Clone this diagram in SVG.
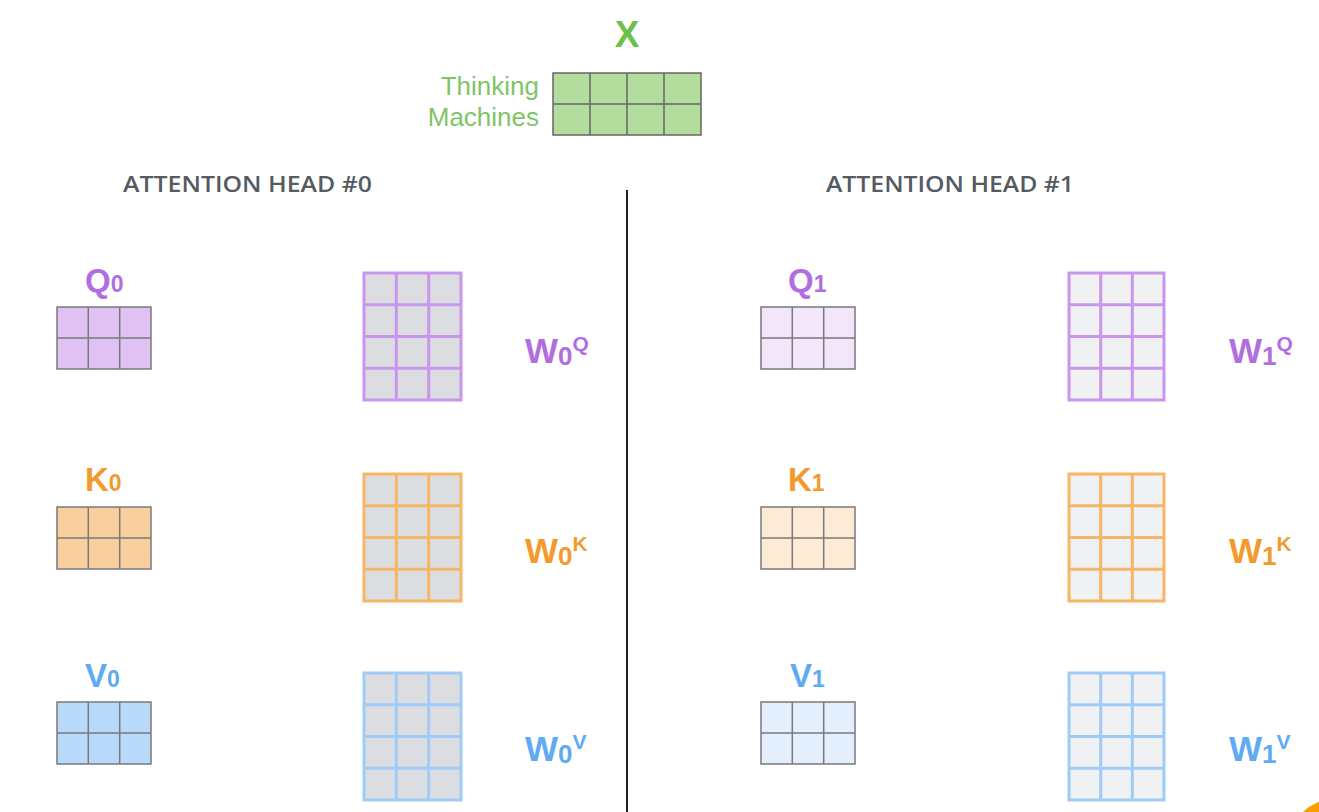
<svg xmlns="http://www.w3.org/2000/svg" width="1319" height="812" viewBox="0 0 1319 812">
<style>
.lbl{font-family:"Liberation Sans",Arial,sans-serif;font-weight:bold}
.sub{font-family:"Liberation Sans",Arial,sans-serif;font-weight:bold}
.txt{font-family:"Liberation Sans",Arial,sans-serif;font-weight:normal}
.head{font-family:"Open Sans","Liberation Sans",sans-serif;font-weight:600;font-size:21px;fill:#555b61}
.sm{stroke:#7a7a7a;stroke-width:1.5}
.w{stroke-width:3}
.pq{fill:#b16ee1}.ok{fill:#f39a2f}.bv{fill:#5fabf3}
</style>
<rect width="1319" height="812" fill="#ffffff"/>

<g id="input-x">
<text x="627" y="47" text-anchor="middle" class="lbl" font-size="37" fill="#6cc04a">X</text>
<text x="539" y="95" text-anchor="end" class="txt" font-size="26" fill="#7fc566">Thinking</text>
<text x="539" y="126" text-anchor="end" class="txt" font-size="26" fill="#7fc566">Machines</text>
<rect x="553" y="73" width="148" height="62" fill="#b3dd9c" stroke="#666" stroke-width="1.5"/>
<path d="M590,73V135M627,73V135M664,73V135M553,104H701" stroke="#666" stroke-width="1.5" fill="none"/>
</g>

<g id="titles">
<text x="123" y="192" class="head" textLength="249" lengthAdjust="spacingAndGlyphs">ATTENTION HEAD #0</text>
<text x="826" y="192" class="head" textLength="248" lengthAdjust="spacingAndGlyphs">ATTENTION HEAD #1</text>
</g>

<g id="connectors">
<line x1="627" y1="190" x2="627" y2="812" stroke="#222" stroke-width="2"/>
</g>

<!-- HEAD 0 -->
<g id="q0">
<text x="85" y="292" class="lbl pq" font-size="33">Q<tspan class="sub" font-size="23">0</tspan></text>
<rect x="57" y="307" width="94" height="62" fill="#dfc2f2" class="sm"/>
<path d="M88.3,307V369M119.7,307V369M57,338H151" class="sm" fill="none"/>
</g>
<g id="w0q">
<rect x="364" y="273" width="97" height="127" fill="#dcdde0" stroke="#c996ee" class="w"/>
<path d="M396.3,273V400M428.7,273V400M364,304.75H461M364,336.5H461M364,368.25H461" stroke="#c996ee" class="w" fill="none"/>
<text x="525" y="363" class="lbl pq" font-size="35">W<tspan font-size="26" class="sub" dy="2">0</tspan><tspan font-size="21" dy="-14">Q</tspan></text>
</g>

<g id="k0">
<text x="85" y="491" class="lbl ok" font-size="33">K<tspan class="sub" font-size="23">0</tspan></text>
<rect x="57" y="507" width="94" height="62" fill="#f9cf9f" class="sm"/>
<path d="M88.3,507V569M119.7,507V569M57,538H151" class="sm" fill="none"/>
</g>
<g id="w0k">
<rect x="364" y="474" width="97" height="127" fill="#dcdde0" stroke="#f7b566" class="w"/>
<path d="M396.3,474V601M428.7,474V601M364,505.75H461M364,537.5H461M364,569.25H461" stroke="#f7b566" class="w" fill="none"/>
<text x="525" y="563" class="lbl ok" font-size="35">W<tspan font-size="26" class="sub" dy="2">0</tspan><tspan font-size="21" dy="-14">K</tspan></text>
</g>

<g id="v0">
<text x="85" y="687" class="lbl bv" font-size="33">V<tspan class="sub" font-size="23">0</tspan></text>
<rect x="57" y="702" width="94" height="62" fill="#b8d9fa" class="sm"/>
<path d="M88.3,702V764M119.7,702V764M57,733H151" class="sm" fill="none"/>
</g>
<g id="w0v">
<rect x="364" y="673" width="97" height="127" fill="#dcdde0" stroke="#9fcbf8" class="w"/>
<path d="M396.3,673V800M428.7,673V800M364,704.75H461M364,736.5H461M364,768.25H461" stroke="#9fcbf8" class="w" fill="none"/>
<text x="525" y="761" class="lbl bv" font-size="35">W<tspan font-size="26" class="sub" dy="2">0</tspan><tspan font-size="21" dy="-14">V</tspan></text>
</g>

<!-- HEAD 1 -->
<g id="q1">
<text x="788" y="292" class="lbl pq" font-size="33">Q<tspan class="sub" font-size="23">1</tspan></text>
<rect x="761" y="307" width="94" height="62" fill="#f2e6fb" class="sm"/>
<path d="M792.3,307V369M823.7,307V369M761,338H855" class="sm" fill="none"/>
</g>
<g id="w1q">
<rect x="1069" y="273" width="95" height="127" fill="#f0f1f3" stroke="#c996ee" class="w"/>
<path d="M1100.7,273V400M1132.3,273V400M1069,304.75H1164M1069,336.5H1164M1069,368.25H1164" stroke="#c996ee" class="w" fill="none"/>
<text x="1229" y="363" class="lbl pq" font-size="35">W<tspan font-size="26" class="sub" dy="2">1</tspan><tspan font-size="21" dy="-14">Q</tspan></text>
</g>

<g id="k1">
<text x="788" y="491" class="lbl ok" font-size="33">K<tspan class="sub" font-size="23">1</tspan></text>
<rect x="761" y="507" width="94" height="62" fill="#fdebd6" class="sm"/>
<path d="M792.3,507V569M823.7,507V569M761,538H855" class="sm" fill="none"/>
</g>
<g id="w1k">
<rect x="1069" y="474" width="95" height="127" fill="#f0f1f3" stroke="#f7b566" class="w"/>
<path d="M1100.7,474V601M1132.3,474V601M1069,505.75H1164M1069,537.5H1164M1069,569.25H1164" stroke="#f7b566" class="w" fill="none"/>
<text x="1229" y="563" class="lbl ok" font-size="35">W<tspan font-size="26" class="sub" dy="2">1</tspan><tspan font-size="21" dy="-14">K</tspan></text>
</g>

<g id="v1">
<text x="790" y="687" class="lbl bv" font-size="33">V<tspan class="sub" font-size="23">1</tspan></text>
<rect x="761" y="702" width="94" height="62" fill="#e3effd" class="sm"/>
<path d="M792.3,702V764M823.7,702V764M761,733H855" class="sm" fill="none"/>
</g>
<g id="w1v">
<rect x="1069" y="673" width="95" height="127" fill="#f0f1f3" stroke="#9fcbf8" class="w"/>
<path d="M1100.7,673V800M1132.3,673V800M1069,704.75H1164M1069,736.5H1164M1069,768.25H1164" stroke="#9fcbf8" class="w" fill="none"/>
<text x="1229" y="761" class="lbl bv" font-size="35">W<tspan font-size="26" class="sub" dy="2">1</tspan><tspan font-size="21" dy="-14">V</tspan></text>
</g>

<circle cx="1335" cy="845" r="46" fill="#f7a000"/>
</svg>
